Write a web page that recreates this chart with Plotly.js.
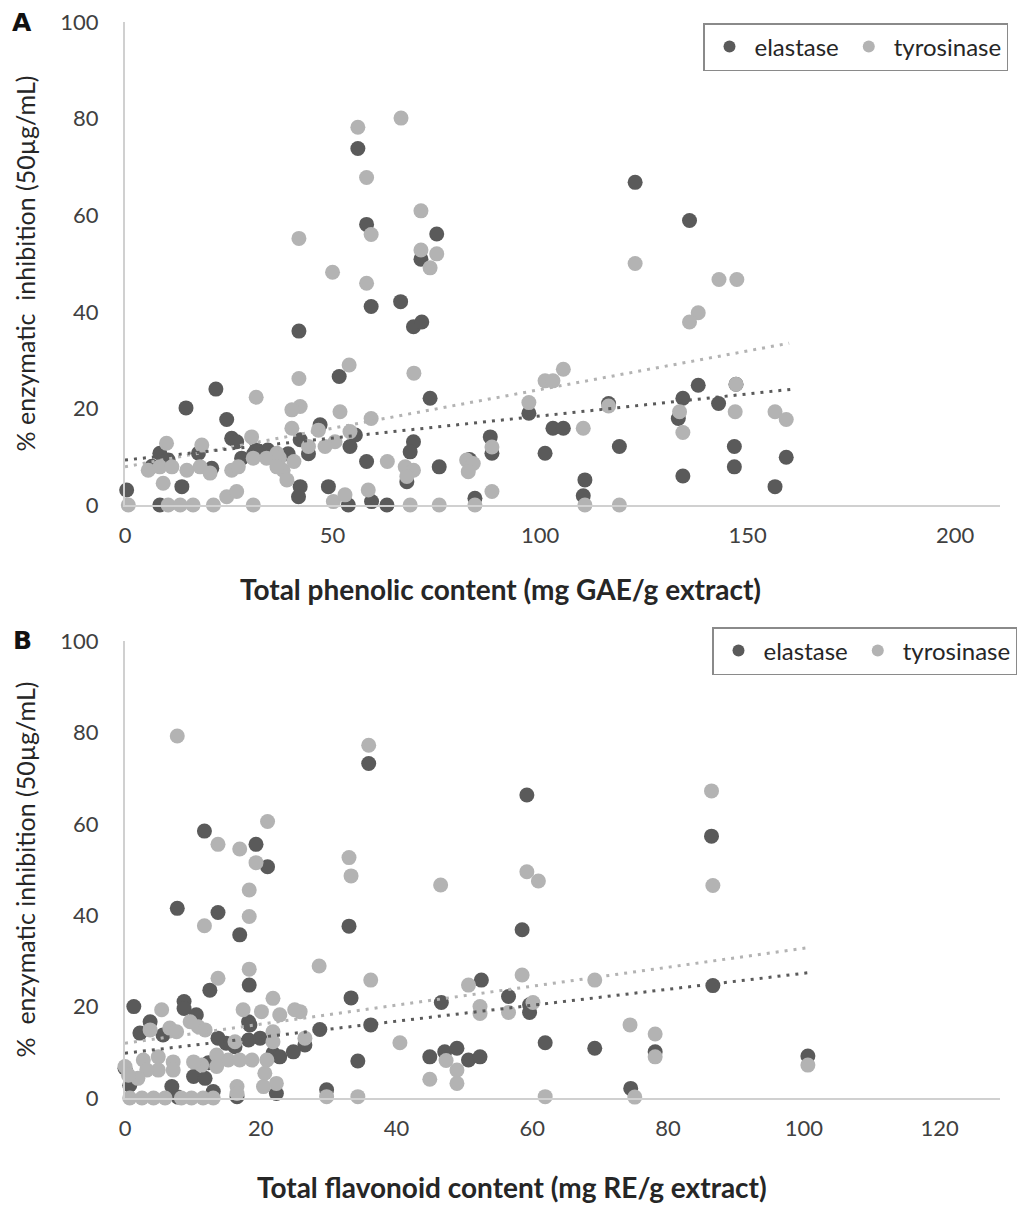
<!DOCTYPE html>
<html>
<head>
<meta charset="utf-8">
<script src="https://cdn.plot.ly/plotly-3.0.1.min.js"></script>
<style>html,body{margin:0;padding:0;background:#fff;}#chart{width:1018px;height:1207px;}</style>
</head>
<body>
<div id="chart"></div>
<script>
// ---------- Panel A: total phenolic content ----------
const phenolElastaseX = [56.1,58.2,75.1,71.3,59.3,66.4,69.5,71.5,41.9,51.6,
  122.9,136.0,138.1,147.2,97.3,116.5,134.4,143.0,133.3,103.1,105.6,101.2,119.1,146.8,146.8,159.3,134.4,156.6,110.8,110.4,88.0,88.4,
  73.5,47.0,54.2,42.2,44.2,58.2,69.5,68.7,67.9,75.7,83.0,42.2,49.0,53.8,59.4,63.1,84.3,
  21.9,14.7,24.5,25.7,26.9,8.4,10.4,17.7,20.9,13.7,0.4,8.4,28.1,31.0,34.4,41.8,39.3,31.6,6.5,55.5];
const phenolElastaseY = [73.8,58.1,56.1,50.9,41.1,42.1,36.9,37.9,36.0,26.6,
  66.8,58.9,24.8,25.0,19.0,21.0,22.1,21.0,17.9,15.9,15.9,10.7,12.1,12.1,7.9,9.9,6.0,3.8,5.2,1.9,14.1,10.7,
  22.1,16.6,12.1,13.5,10.6,9.0,13.1,11.0,4.8,7.9,9.4,3.8,3.8,0,0.7,0,1.4,
  24.0,20.1,17.7,13.8,13.1,10.7,9.3,10.7,7.6,3.8,3.1,0,9.7,10.6,11.4,1.7,10.6,11.4,8.0,14.5];
const phenolTyrosinaseX = [56.1,66.5,58.2,71.3,59.3,41.9,71.3,75.1,73.5,50.0,58.2,54.0,41.9,69.6,
  122.9,143.1,147.4,138.1,136.0,105.6,101.2,103.1,147.2,97.3,116.5,133.6,147.0,156.6,159.3,110.4,134.4,110.8,119.1,88.4,88.4,
  42.2,51.8,59.3,46.6,54.2,50.6,48.2,44.2,63.2,67.5,69.5,67.9,82.3,83.9,82.7,50.2,53.0,58.6,68.7,75.7,84.3,
  31.6,40.2,40.2,30.5,10.0,18.5,5.6,8.4,11.3,14.9,18.1,20.5,9.2,0.8,10.4,13.3,16.4,21.3,30.9,24.5,26.9,25.7,27.3,30.9,34.1,36.6,38.1,39.0,37.2,40.7,36.6];
const phenolTyrosinaseY = [78.2,80.1,67.8,60.9,56.0,55.2,52.8,52.0,49.1,48.2,45.9,29.0,26.2,27.3,
  50.0,46.7,46.7,39.8,37.9,28.1,25.7,25.7,25.0,21.2,20.5,19.3,19.3,19.3,17.7,15.9,15.0,0,0,12.0,2.8,
  20.4,19.3,17.9,15.5,15.2,13.1,12.1,12.1,9.0,7.9,7.2,5.9,9.3,8.6,6.9,0.7,2.1,3.1,0,0,0,
  22.3,19.7,15.9,14.1,12.8,12.4,7.2,7.9,7.9,7.2,7.9,6.6,4.5,0,0,0,0,0,0,1.7,2.8,7.2,7.9,9.7,9.7,10.7,7.2,5.2,9.7,9.0,7.9];
// linear trendlines: [x start, x end], [y start, y end]
const phenolTrendElastaseX = [0, 161];
const phenolTrendElastaseY = [9.3, 24.0];
const phenolTrendTyrosinaseX = [0, 160];
const phenolTrendTyrosinaseY = [7.9, 33.5];

// ---------- Panel B: total flavonoid content ----------
const flavElastaseX = [11.7,19.3,21.0,7.7,13.7,16.9,
  35.9,59.2,33.0,58.5,33.3,52.5,46.6,56.5,59.6,59.6,28.7,36.2,26.5,61.9,34.3,44.9,47.1,48.9,50.6,52.3,29.7,
  86.4,86.6,69.2,78.1,100.6,74.5,
  18.3,12.5,1.3,8.7,8.7,10.5,18.2,3.7,2.2,5.6,13.7,16.2,18.4,19.9,21.8,22.8,24.8,22.3,16.5,10.1,11.8,12.3,6.9,0.0,0.7,7.8,13.0,18.2,14.9];
const flavElastaseY = [58.4,55.5,50.6,41.5,40.6,35.7,
  73.2,66.3,37.6,36.8,21.9,25.8,20.9,22.2,20.4,18.7,15.0,16.0,11.6,12.1,8.1,9.0,10.1,10.9,8.3,9.0,1.8,
  57.3,24.6,10.9,10.1,9.2,2.1,
  24.7,23.6,20.0,21.1,19.6,18.2,16.7,16.7,14.2,13.8,13.1,11.2,16.0,13.1,9.8,9.0,10.1,1.0,0.3,4.7,4.3,7.7,2.5,6.5,2.8,0.2,1.4,12.7,12.0];
const flavTyrosinaseX = [7.7,21.0,13.7,16.9,19.3,18.3,18.3,11.7,18.3,
  35.9,33.0,33.3,46.5,59.2,60.9,28.6,36.2,58.5,50.6,52.3,52.3,56.5,60.1,25.8,26.5,40.5,47.3,48.9,44.9,48.9,29.7,34.3,61.9,
  86.4,86.6,69.2,74.4,78.1,78.1,100.6,75.1,
  13.7,21.8,5.4,17.4,20.1,22.8,25.0,9.6,10.8,11.8,3.7,6.6,7.6,16.2,21.8,21.8,20.9,20.6,20.4,22.3,16.5,16.5,15.2,16.9,18.7,13.5,13.5,11.3,10.1,7.1,7.1,4.9,4.9,2.7,3.2,1.9,0.0,0.5,
  0.7,2.5,4.2,5.9,8.3,9.8,11.5,13.0];
const flavTyrosinaseY = [79.2,60.5,55.5,54.5,51.5,45.5,39.7,37.7,28.2,
  77.2,52.6,48.6,46.6,49.5,47.5,28.9,25.8,26.9,24.7,20.0,18.5,18.7,20.9,18.9,13.1,12.1,8.2,6.1,4.1,3.2,0.3,0.3,0.3,
  67.2,46.5,25.8,16.0,14.0,9.0,7.2,0.2,
  26.2,21.8,19.3,19.3,18.9,18.2,19.3,16.7,15.6,14.9,14.9,15.3,14.5,12.3,14.5,12.3,8.3,5.4,2.5,3.2,2.5,1.0,8.3,8.3,8.3,9.4,6.9,7.2,7.9,7.9,6.1,9.0,6.1,8.3,6.1,4.3,6.9,5.0,
  0,0,0,0,0,0,0,0];
const flavTrendElastaseX = [0, 100.6];
const flavTrendElastaseY = [9.8, 27.4];
const flavTrendTyrosinaseX = [0, 100.6];
const flavTrendTyrosinaseY = [12.0, 32.9];

// tick labels / text
const seriesNames = ['elastase', 'tyrosinase'];
const xTitleA = 'Total phenolic content (mg GAE/g extract)';
const xTitleB = 'Total flavonoid content (mg RE/g extract)';
const yTitleA = '% enzymatic  inhibition (50µg/mL)';
const yTitleB = '%  enzymatic inhibition (50µg/mL)';

// ---------- styling ----------
const W = 1018, H = 1207;
const px = v => v / W, py = v => 1 - v / H;
const DARK = '#5a5a5a', LIGHT = '#b3b3b3';
const FONT = 'Lato, "Open Sans", "Liberation Sans", sans-serif';
const MS = 15;

function pts(x, y, name, color, xa, ya, legend, show) {
  return {type: 'scatter', mode: 'markers', x: x, y: y, name: name, xaxis: xa, yaxis: ya,
    legend: legend, showlegend: show, cliponaxis: false,
    marker: {size: MS, color: color, line: {width: 0}}};
}
function trend(x, y, color, xa, ya) {
  return {type: 'scatter', mode: 'lines', x: x, y: y, xaxis: xa, yaxis: ya, showlegend: false,
    hoverinfo: 'skip', line: {color: color, width: 3, dash: '3px,6px'}};
}

const data = [
  pts(phenolElastaseX, phenolElastaseY, seriesNames[0], DARK, 'x', 'y', 'legend', true),
  pts(phenolTyrosinaseX, phenolTyrosinaseY, seriesNames[1], LIGHT, 'x', 'y', 'legend', true),
  trend(phenolTrendTyrosinaseX, phenolTrendTyrosinaseY, LIGHT, 'x', 'y'),
  trend(phenolTrendElastaseX, phenolTrendElastaseY, DARK, 'x', 'y'),
  pts(flavElastaseX, flavElastaseY, seriesNames[0], DARK, 'x2', 'y2', 'legend2', true),
  pts(flavTyrosinaseX, flavTyrosinaseY, seriesNames[1], LIGHT, 'x2', 'y2', 'legend2', true),
  trend(flavTrendTyrosinaseX, flavTrendTyrosinaseY, LIGHT, 'x2', 'y2'),
  trend(flavTrendElastaseX, flavTrendElastaseY, DARK, 'x2', 'y2')
];

const tickFont = {family: FONT, size: 22, color: '#404040'};
function xAxis(range, dtick, anchor) {
  return {domain: [px(125), px(1000)], range: range, dtick: dtick, tick0: 0, anchor: anchor,
    showgrid: false, zeroline: false, showline: true, linecolor: '#d0d0d0', linewidth: 2,
    ticks: '', ticklabelstandoff: 10, tickfont: tickFont, fixedrange: true};
}
function yAxis(domain, title, anchor) {
  return {domain: domain, range: [0, 100], dtick: 20, anchor: anchor,
    showgrid: false, zeroline: false, showline: true, linecolor: '#d0d0d0', linewidth: 2,
    ticks: '', ticklabelstandoff: 20, tickfont: tickFont, fixedrange: true,
    title: {text: title, font: {family: FONT, size: 25, color: '#262626'}, standoff: 18}};
}

const legendCommon = {orientation: 'h', xanchor: 'left', yanchor: 'top', bgcolor: '#ffffff',
  bordercolor: '#8a8a8a', borderwidth: 1.5, itemsizing: 'constant', itemwidth: 40,
  font: {family: FONT, size: 24, color: '#262626'}, itemclick: false, itemdoubleclick: false};

const xTitleFont = {family: FONT, size: 28, color: '#262626'};
const layout = {
  width: W, height: H, margin: {l: 0, r: 0, t: 0, b: 0},
  paper_bgcolor: '#ffffff', plot_bgcolor: '#ffffff', showlegend: true,
  xaxis: xAxis([0, 210.8], 50, 'y'),
  yaxis: yAxis([py(505), py(22)], yTitleA, 'x'),
  xaxis2: xAxis([0, 128.9], 20, 'y2'),
  yaxis2: yAxis([py(1098), py(641)], yTitleB, 'x2'),
  legend: Object.assign({x: px(703), y: py(23)}, legendCommon),
  legend2: Object.assign({x: px(712), y: py(627)}, legendCommon),
  annotations: [
    {text: '<b>A</b>', xref: 'paper', yref: 'paper', x: px(22), y: py(22), xanchor: 'center', yanchor: 'middle',
     showarrow: false, font: {family: '"DejaVu Sans", Roboto, sans-serif', size: 25, color: '#111'}},
    {text: '<b>B</b>', xref: 'paper', yref: 'paper', x: px(22), y: py(640), xanchor: 'center', yanchor: 'middle',
     showarrow: false, font: {family: '"DejaVu Sans", Roboto, sans-serif', size: 25, color: '#111'}},
    {text: '<b>' + xTitleA + '</b>', xref: 'paper', yref: 'paper', x: px(500), y: py(589), xanchor: 'center', yanchor: 'middle',
     showarrow: false, font: xTitleFont},
    {text: '<b>' + xTitleB + '</b>', xref: 'paper', yref: 'paper', x: px(512), y: py(1187), xanchor: 'center', yanchor: 'middle',
     showarrow: false, font: xTitleFont}
  ]
};

Plotly.newPlot('chart', data, layout, {staticPlot: true, displayModeBar: false});
</script>
</body>
</html>
